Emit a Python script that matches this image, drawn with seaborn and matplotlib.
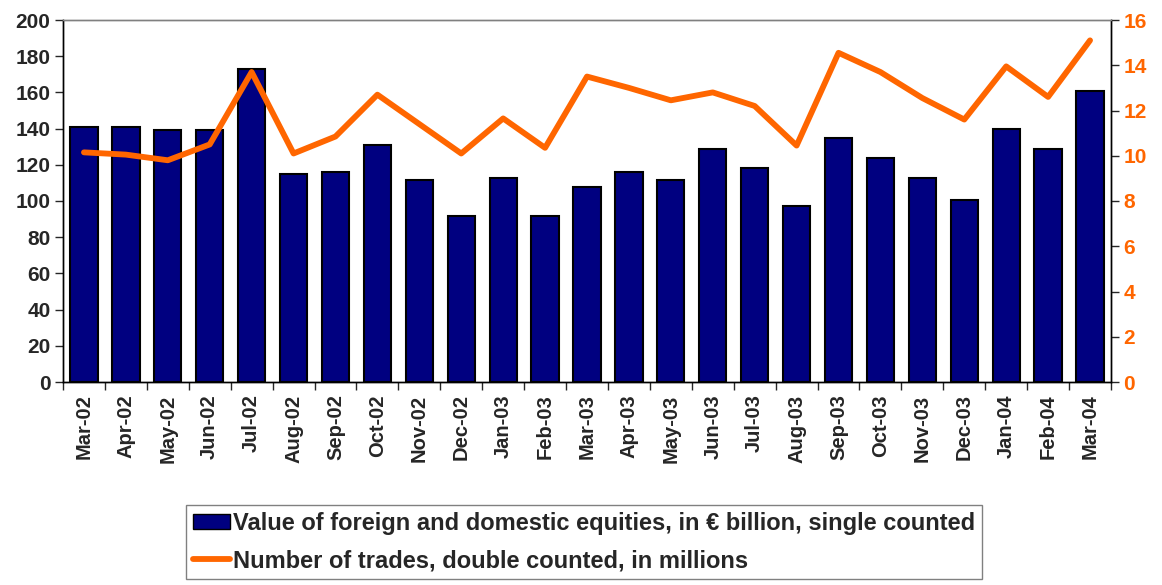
import numpy as np
import pandas as pd
import matplotlib
matplotlib.use("Agg")
import matplotlib.pyplot as plt
import seaborn as sns
from matplotlib.patches import Patch
from matplotlib.lines import Line2D

# data
months = ["Mar-02", "Apr-02", "May-02", "Jun-02", "Jul-02", "Aug-02", "Sep-02",
          "Oct-02", "Nov-02", "Dec-02", "Jan-03", "Feb-03", "Mar-03", "Apr-03",
          "May-03", "Jun-03", "Jul-03", "Aug-03", "Sep-03", "Oct-03", "Nov-03",
          "Dec-03", "Jan-04", "Feb-04", "Mar-04"]
equity_value = [141, 141, 139, 139, 173, 115, 116, 131, 111.5, 91.5, 112.5, 91.5,
                108, 116, 111.5, 129, 118, 97, 135, 123.5, 112.5, 100.5, 140, 129, 161]
trades = [10.15, 10.05, 9.8, 10.5, 13.7, 10.1, 10.85, 12.7, 11.4, 10.1, 11.65, 10.35,
          13.5, 13.0, 12.45, 12.8, 12.2, 10.45, 14.55, 13.7, 12.55, 11.6, 13.95, 12.6, 15.1]

bar_label = "Value of foreign and domestic equities, in \u20ac billion, single counted"
line_label = "Number of trades, double counted, in millions"

navy = "#000080"
orange = "#FF6600"

sns.set_style("white")
plt.rcParams["font.family"] = ["Liberation Sans", "DejaVu Sans"]
plt.rcParams["font.weight"] = "bold"

df = pd.DataFrame({"month": months, "value": equity_value, "trades": trades})

fig = plt.figure(figsize=(11.62, 5.85), dpi=100)
ax = fig.add_axes([63 / 1162, 1 - 382 / 585, (1111 - 63) / 1162, (382 - 20) / 585])

sns.barplot(data=df, x="month", y="value", color=navy, width=0.65,
            edgecolor="black", linewidth=1.5, saturation=1, ax=ax)
ax.set_ylim(0, 200)
ax.set_xlim(-0.5, len(months) - 0.5)
ax.set_yticks(np.arange(0, 201, 20))
ax.set_xlabel("")
ax.set_ylabel("")

ax2 = ax.twinx()
sns.lineplot(data=df, x="month", y="trades", sort=False, color=orange,
             linewidth=4.2, ax=ax2)
ax2.set_ylim(0, 16)
ax2.set_yticks(np.arange(0, 17, 2))
ax2.set_ylabel("")
ax2.set_xlim(-0.5, len(months) - 0.5)

# x ticks at category boundaries, labels at centres
ax.set_xticks(np.arange(len(months)))
ax.set_xticklabels(months, rotation=90, fontsize=14.5, fontweight="bold")
ax.set_xticks(np.arange(-0.5, len(months)), minor=True)
ax.tick_params(axis="x", which="major", length=0, pad=9)
ax.tick_params(axis="x", which="minor", length=6, width=1, direction="out", bottom=True)
ax.tick_params(axis="y", length=6, width=1, direction="out", left=True,
               labelsize=15, pad=3)
for t in ax.get_yticklabels():
    t.set_fontweight("bold")
ax2.tick_params(axis="y", length=6, width=1, direction="out", right=True,
                labelsize=15, labelcolor=orange, pad=3)
for t in ax2.get_yticklabels():
    t.set_fontweight("bold")

for a in (ax, ax2):
    a.spines["left"].set_color("black")
    a.spines["bottom"].set_color("black")
    a.spines["right"].set_color("black")
    a.spines["top"].set_color("#808080")
    for s in a.spines.values():
        s.set_linewidth(1)

handles = [Patch(facecolor=navy, edgecolor="black", linewidth=1),
           Line2D([0], [0], color=orange, linewidth=4.2, solid_capstyle="round")]
leg = fig.legend(handles, [bar_label, line_label], loc="upper left",
                 bbox_to_anchor=(186 / 1162, 1 - 505 / 585),
                 frameon=True, fancybox=False, edgecolor="#606060",
                 prop={"size": 17, "weight": "bold"},
                 handlelength=1.55, handleheight=0.6, handletextpad=0.15,
                 borderpad=0.3, labelspacing=0.6, borderaxespad=0)
leg.get_frame().set_linewidth(1)

fig.savefig("out.png", dpi=100)
